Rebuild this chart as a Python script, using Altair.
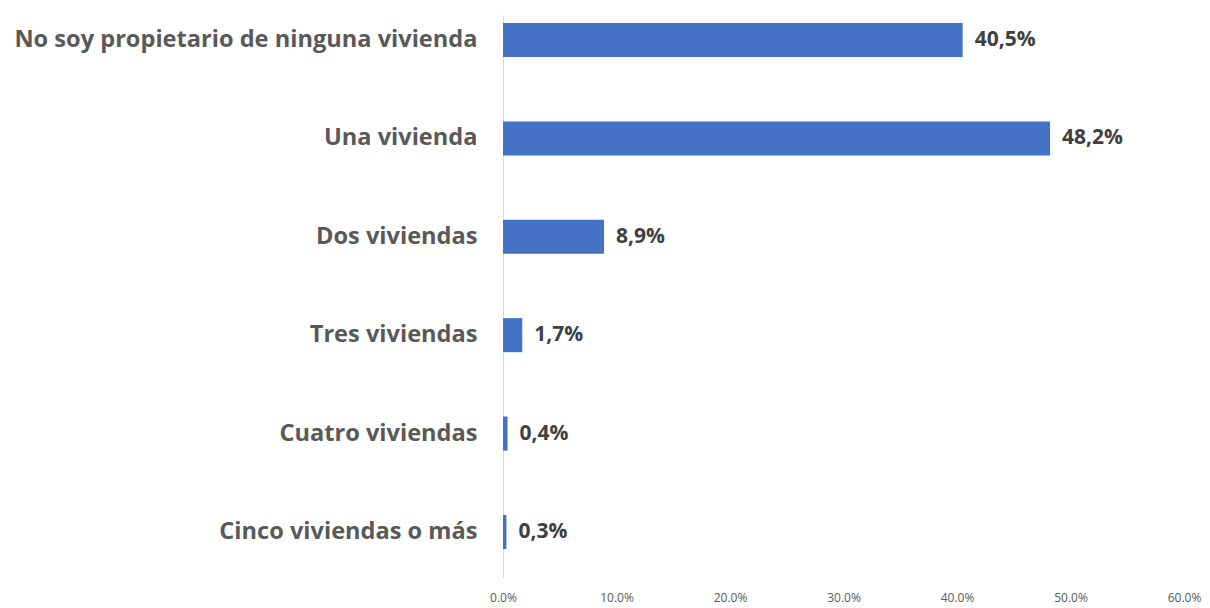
import altair as alt
import pandas as pd

categories = [
    "No soy propietario de ninguna vivienda",
    "Una vivienda",
    "Dos viviendas",
    "Tres viviendas",
    "Cuatro viviendas",
    "Cinco viviendas o más",
]
values = [40.5, 48.2, 8.9, 1.7, 0.4, 0.3]
tick_values = [0, 10, 20, 30, 40, 50, 60]

labels = [f"{v:.1f}".replace(".", ",") + "%" for v in values]
df = pd.DataFrame({"cat": categories, "val": values, "label": labels})

FONT = "Open Sans"

y_enc = alt.Y(
    "cat:N",
    sort=categories,
    scale=alt.Scale(paddingInner=0.654, paddingOuter=0.188, align=0.216),
    axis=alt.Axis(
        title=None,
        ticks=False,
        domain=True,
        domainColor="#d9d9d9",
        domainWidth=1,
        labelFont=FONT,
        labelFontSize=23.6,
        labelFontWeight="bold",
        labelColor="#595959",
        labelPadding=26,
        labelLimit=600,
    ),
)

x_enc = alt.X(
    "val:Q",
    scale=alt.Scale(domain=[0, 60], nice=False, zero=True),
    axis=alt.Axis(
        title=None,
        values=tick_values,
        labelExpr="format(datum.value, '.1f') + '%'",
        grid=False,
        ticks=False,
        domain=False,
        labelFont=FONT,
        labelFontSize=12,
        labelColor="#595959",
        labelPadding=14,
        labelFlush=False,
    ),
)

bars = alt.Chart(df).mark_bar(color="#4472C4").encode(x=x_enc, y=y_enc)

text = alt.Chart(df).mark_text(
    align="left",
    baseline="middle",
    dx=12,
    font=FONT,
    fontSize=21,
    fontWeight="bold",
    color="#404040",
).encode(
    x=alt.X("val:Q"),
    y=alt.Y("cat:N", sort=categories),
    text="label:N",
)

chart = (
    alt.layer(bars, text)
    .properties(
        width=681,
        height=563,
        autosize=alt.AutoSizeParams(type="none"),
        padding={"top": 7, "left": 495, "right": 18, "bottom": 28},
    )
    .configure(background="white")
    .configure_view(stroke="transparent", strokeWidth=0)
)

chart.save("out.html", embed_options={"renderer": "svg", "actions": False})
